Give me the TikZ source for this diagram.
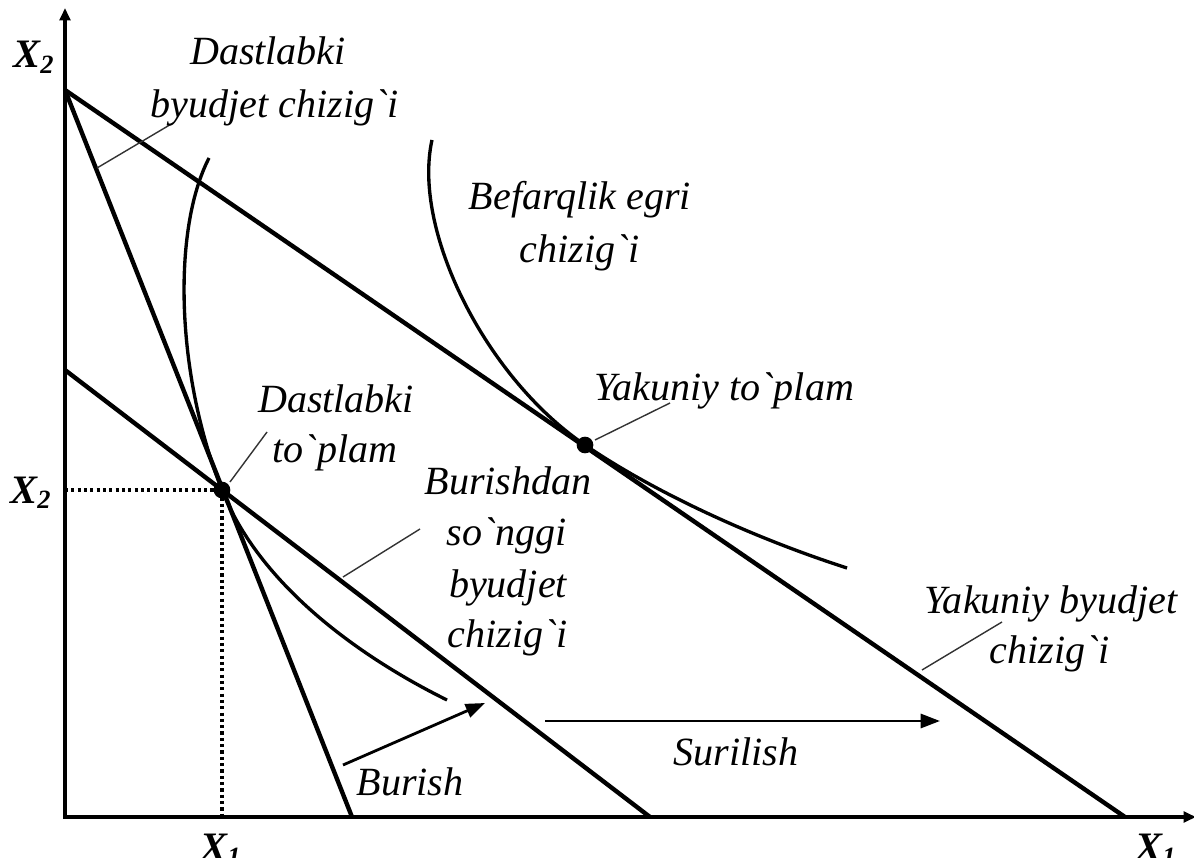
\documentclass[tikz,border=0pt]{standalone}
\usepackage{fontspec}
\setmainfont{Liberation Serif}
\usetikzlibrary{arrows.meta}
\newcommand{\grv}{\textasciigrave}
\begin{document}
\begin{tikzpicture}[x=0.02cm,y=-0.02cm,
  lab/.style={font=\fontsize{22.8}{29}\selectfont\itshape, inner sep=0pt, anchor=base},
  axlab/.style={font=\fontsize{23}{26}\selectfont\bfseries\itshape, inner sep=0pt, anchor=base west},
  ax/.style={line width=2.3pt},
  bline/.style={line width=2.5pt},
  icurve/.style={line width=1.9pt},
  leader/.style={line width=0.8pt, black!80},
  guide/.style={line width=2pt, dash pattern=on 1.8pt off 1.8pt},
  mv/.style={line width=1.6pt, -{Triangle[length=11pt,width=8pt]}},
  dot/.style={circle, fill=black, inner sep=0pt, minimum size=9.5pt}
]
\useasboundingbox (0,0) rectangle (1194,858);
% key points
\coordinate (O) at (65,817);
\coordinate (ytop) at (65,8);
\coordinate (xend) at (1196,817);
\coordinate (A) at (65,90);
\coordinate (B) at (65,370);
\coordinate (S1) at (352,817);
\coordinate (S2) at (650,817);
\coordinate (S3) at (1125,817);
\coordinate (p1) at (222,490);
\coordinate (p2) at (585,445);
\coordinate (y1) at (65,490);
\coordinate (x1) at (222,817);
% axes
\draw[ax, {Triangle[length=7pt,width=6pt]}-{Triangle[length=7pt,width=6pt]}] (ytop) -- (O) -- (xend);
% guides
\draw[guide] (y1) -- (p1) -- (x1);
% budget lines
\draw[bline] (A) -- (S1);
\draw[bline] (A) -- (S3);
\draw[bline] (B) -- (S2);
% indifference curves
\draw[icurve] (209,158) .. controls (172,230) and (176,375) .. (p1) .. controls (262,591) and (370,662) .. (447,700);
\draw[icurve] (432,140) .. controls (412,230) and (485,377) .. (p2) .. controls (660,496) and (760,540) .. (847,568);
% dots
\node[dot] (d1) at (p1) {};
\node[dot] (d2) at (p2) {};
% arrows
\coordinate (b0) at (343,765);
\coordinate (b1) at (485,703);
\coordinate (s0) at (545,721);
\coordinate (s1) at (940,721);
\draw[mv] (b0) -- (b1);
\draw[mv] (s0) -- (s1);
% leaders
\coordinate (l1a) at (97,168);  \coordinate (l1b) at (173,123);
\coordinate (l2a) at (230,482); \coordinate (l2b) at (267,432);
\coordinate (l3a) at (343,577); \coordinate (l3b) at (420,529);
\coordinate (l4a) at (595,440); \coordinate (l4b) at (670,403);
\coordinate (l5a) at (922,670); \coordinate (l5b) at (1002,622);
\draw[leader] (l1a) -- (l1b);
\draw[leader] (l2a) -- (l2b);
\draw[leader] (l3a) -- (l3b);
\draw[leader] (l4a) -- (l4b);
\draw[leader] (l5a) -- (l5b);
% labels
\node[lab] (dbl1) at (268,65) {Dastlabki};
\node[lab] (dbl2) at (275,118) {byudjet chizig\grv i};
\node[lab] (bef1) at (580,210) {Befarqlik egri};
\node[lab] (bef2) at (580,263) {chizig\grv i};
\node[lab] (yt) at (724,400) {Yakuniy to\grv plam};
\node[lab] (dt1) at (336,412) {Dastlabki};
\node[lab] (dt2) at (335,462) {to\grv plam};
\node[lab] (bur1) at (508,494) {Burishdan};
\node[lab] (bur2) at (507,545) {so\grv nggi};
\node[lab] (bur3) at (508,597) {byudjet};
\node[lab] (bur4) at (508,647) {chizig\grv i};
\node[lab] (burish) at (410,795) {Burish};
\node[lab] (suril) at (736,765) {Surilish};
\node[lab] (yb1) at (1051,613) {Yakuniy byudjet};
\node[lab] (yb2) at (1050,663) {chizig\grv i};
% axis labels
\node[axlab] (x2a) at (13,68) {X\raisebox{-0.3ex}{\fontsize{15}{15}\selectfont 2}};
\node[axlab] (x2b) at (10,503) {X\raisebox{-0.3ex}{\fontsize{15}{15}\selectfont 2}};
\node[axlab] (x1a) at (200,860) {X\raisebox{-0.3ex}{\fontsize{15}{15}\selectfont 1}};
\node[axlab] (x1b) at (1135,860) {X\raisebox{-0.3ex}{\fontsize{15}{15}\selectfont 1}};
\end{tikzpicture}
\end{document}
